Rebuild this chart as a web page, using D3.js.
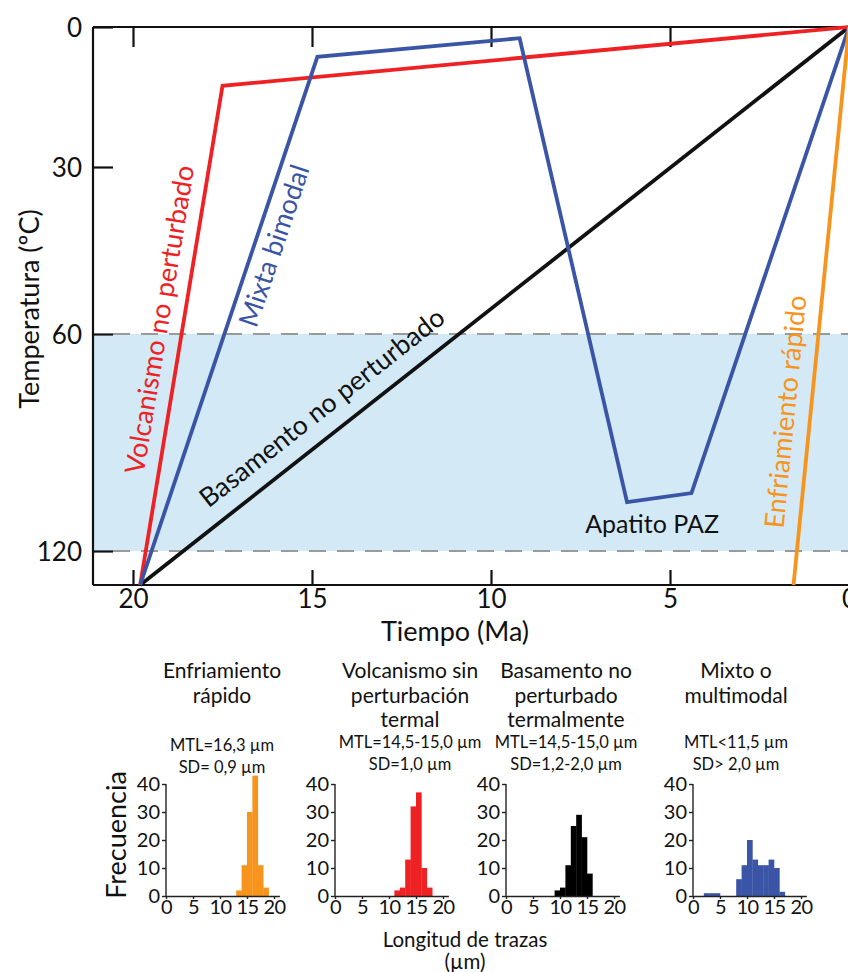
<!DOCTYPE html>
<html><head><meta charset="utf-8">
<script src="https://cdn.jsdelivr.net/npm/d3@7"></script>
<style>
html,body{margin:0;padding:0;background:#fff;}
svg{display:block;font-family:Lato,"Open Sans",sans-serif;}
</style></head>
<body>
<svg id="c" width="848" height="972"></svg>
<script>
// ---------- data: main thermal-history chart ----------
const timeTicks = [20, 15, 10, 5, 0];
const tempTicks = [0, 30, 60, 120];
const pazRange = [60, 120];           // Apatito PAZ band (ºC)

const volcTime = [19.8, 17.5, 0];
const volcTemp = [130, 12.6, 0];
const mixTime  = [19.8, 14.85, 9.2, 6.2, 4.4, 0];
const mixTemp  = [130, 6.4, 2.4, 106.5, 104, 0];
const basTime  = [19.8, 0];
const basTemp  = [130, 0];
const enfTime  = [1.55, 0];
const enfTemp  = [130, 0];

// ---------- data: track-length histograms ----------
const histTitles = [["Enfriamiento", "rápido"], ["Volcanismo sin", "perturbación", "termal"], ["Basamento no", "perturbado", "termalmente"], ["Mixto o", "multimodal"]];
const histStats = [["MTL=16,3 µm", "SD= 0,9 µm"], ["MTL=14,5-15,0 µm", "SD=1,0 µm"], ["MTL=14,5-15,0 µm", "SD=1,2-2,0 µm"], ["MTL<11,5 µm", "SD> 2,0 µm"]];
const enfBins = [13, 14, 15, 16, 17, 18];
const enfCounts = [2, 11, 30, 43, 11, 3];
const volBins = [11, 12, 13, 14, 15, 16, 17];
const volCounts = [2, 3, 13, 32, 37, 10, 3];
const basBins = [9, 10, 11, 12, 13, 14, 15];
const basCounts = [2, 3, 11, 25, 29, 21, 8];
const mixBins = [2, 3, 4, 8, 9, 10, 11, 12, 13, 14, 15, 16];
const mixCounts = [1, 1, 1, 6, 11, 20, 13, 11, 11, 13, 10, 1.5];
const lenTicks = [0, 5, 10, 15, 20];
const freqTicks = [0, 10, 20, 30, 40];

// ---------- styles ----------
const RED = "#ee2124", BLUE = "#3a55a5", BLACK = "#111", ORANGE = "#f7941d", BAND = "#d3e9f6";

const svg = d3.select("#c");

// ---------- main chart ----------
const x = d3.scaleLinear().domain([20, 0]).range([133, 849]);
const y = d3.scaleLinear().domain([0, 30, 60, 120, 130]).range([27, 167, 334, 551, 585]);
const L = 93, R = 848, T = 27, B = 585;

const defs = svg.append("defs");
defs.append("clipPath").attr("id", "clipMain").append("rect")
  .attr("x", L).attr("y", 0).attr("width", R - L).attr("height", B + 10);

const gM = svg.append("g");
// PAZ band
gM.append("rect").attr("x", L).attr("width", R - L)
  .attr("y", y(pazRange[0])).attr("height", y(pazRange[1]) - y(pazRange[0]))
  .attr("fill", BAND);
gM.selectAll("line.dash").data(pazRange).join("line")
  .attr("x1", L + 20).attr("x2", R).attr("y1", d => y(d)).attr("y2", d => y(d))
  .attr("stroke", "#9a9a9a").attr("stroke-width", 2).attr("stroke-dasharray", "17,11");

// axes
const axL = d3.axisLeft(y).tickValues(tempTicks).tickSize(-20).tickPadding(11).tickFormat(d3.format("d"));
const gL = gM.append("g").attr("transform", `translate(${L},0)`).call(axL);
gL.select(".domain").attr("d", `M0,${T}V${B}`);
const axB = d3.axisBottom(x).tickValues(timeTicks).tickSize(-15).tickPadding(5);
const gB = gM.append("g").attr("transform", `translate(0,${B})`).call(axB);
gB.select(".domain").attr("d", `M${L},0H${R + 5}`);
const axT = d3.axisTop(x).tickValues(timeTicks).tickSize(-20).tickFormat("");
const gT = gM.append("g").attr("transform", `translate(0,${T})`).call(axT);
gT.select(".domain").attr("d", `M${L},0H${R + 5}`);
[gL, gB, gT].forEach(g => {
  g.selectAll(".domain,line").attr("stroke", "#111").attr("stroke-width", 2.2);
  g.selectAll("text").attr("font-size", 26).attr("fill", "#111").attr("font-family", "Lato,sans-serif");
});
gL.selectAll("text").attr("dy", "0.35em");
gB.selectAll(".tick").filter(d => d === 0).select("line").remove();
gT.selectAll(".tick").filter(d => d === 0).select("line").remove();

// lines
const line = d3.line().x(d => x(d[0])).y(d => y(d[1]));
const series = [
  {t: basTime, v: basTemp, c: BLACK},
  {t: volcTime, v: volcTemp, c: RED},
  {t: mixTime, v: mixTemp, c: BLUE},
  {t: enfTime, v: enfTemp, c: ORANGE}
];
gM.append("g").attr("clip-path", "url(#clipMain)")
  .selectAll("path").data(series).join("path")
  .attr("d", s => line(d3.zip(s.t, s.v)))
  .attr("fill", "none").attr("stroke", s => s.c).attr("stroke-width", 3.8)
  .attr("stroke-linejoin", "miter");

// rotated labels along lines
function lineLabel(text, t0, v0, t1, v1, frac, off, color, size) {
  const x0 = x(t0), y0 = y(v0), x1 = x(t1), y1 = y(v1);
  const ang = Math.atan2(y1 - y0, x1 - x0) * 180 / Math.PI;
  const px = x0 + (x1 - x0) * frac, py = y0 + (y1 - y0) * frac;
  gM.append("text").attr("transform", `translate(${px},${py}) rotate(${ang})`)
    .attr("y", -off).attr("dy", "0.35em").attr("text-anchor", "middle")
    .attr("font-size", size).attr("fill", color).text(text);
}
lineLabel("Volcanismo no perturbado", volcTime[0], volcTemp[0], volcTime[1], volcTemp[1], 0.524, 24, RED, 27);
lineLabel("Mixta bimodal", mixTime[0], mixTemp[0], mixTime[1], mixTemp[1], 0.654, -19, BLUE, 27);
lineLabel("Basamento no perturbado", basTime[0], basTemp[0], basTime[1], basTemp[1], 0.28, 27, BLACK, 26.5);
lineLabel("Enfriamiento rápido", enfTime[0], enfTemp[0], enfTime[1], enfTemp[1], 0.306, 25, ORANGE, 27);

gM.append("text").attr("x", x(5.5)).attr("y", y(112.5)).attr("dy", "0.35em")
  .attr("text-anchor", "middle").attr("font-size", 25).attr("fill", "#111").text("Apatito PAZ");

// axis titles
gM.append("text").attr("transform", `translate(30,${(T + B) / 2 + 3}) rotate(-90)`)
  .attr("text-anchor", "middle").attr("dy", "0.35em").attr("font-size", 27).attr("fill", "#111")
  .text("Temperatura (ºC)");
gM.append("text").attr("x", 455).attr("y", 632).attr("dy", "0.35em")
  .attr("text-anchor", "middle").attr("font-size", 27).attr("fill", "#111").text("Tiempo (Ma)");

// ---------- histograms ----------
const panelX = [166, 335, 506, 693];
const titleX = [222, 410, 566, 736];
const hist = [
  {b: enfBins, c: enfCounts, col: ORANGE},
  {b: volBins, c: volCounts, col: RED},
  {b: basBins, c: basCounts, col: "#000"},
  {b: mixBins, c: mixCounts, col: BLUE}
];
const hx = d3.scaleLinear().domain([0, 21]).range([0, 113.4]);
const hy = d3.scaleLinear().domain([0, 40]).range([896, 784]);

hist.forEach((h, i) => {
  const g = svg.append("g").attr("transform", `translate(${panelX[i]},0)`);
  g.selectAll("rect").data(d3.zip(h.b, h.c)).join("rect")
    .attr("x", d => hx(d[0])).attr("width", d => hx(d[0] + 1) - hx(d[0]) + 0.3)
    .attr("y", d => hy(d[1])).attr("height", d => hy(0) - hy(d[1]))
    .attr("fill", h.col);
  const ay = g.append("g").call(d3.axisLeft(hy).tickValues(freqTicks).tickSize(4).tickPadding(2));
  const ax = g.append("g").attr("transform", `translate(0,${hy(0)})`)
    .call(d3.axisBottom(hx).tickValues(lenTicks).tickSize(3).tickPadding(1).tickSizeOuter(0));
  [ax, ay].forEach(a => {
    a.selectAll(".domain,line").attr("stroke", "#222").attr("stroke-width", 1.4);
    a.selectAll("text").attr("font-size", 20).attr("fill", "#111").attr("font-family", "Lato,sans-serif");
  });
  ay.select(".domain").attr("d", `M0,${hy(40)}V${hy(0)}`);
  ax.selectAll("text").attr("letter-spacing", "-0.5px");
  // titles
  svg.append("text").attr("text-anchor", "middle").attr("font-size", 21).attr("fill", "#111")
    .selectAll("tspan").data(histTitles[i]).join("tspan")
    .attr("x", titleX[i]).attr("y", (d, j) => 678 + j * 24.5).text(d => d);
  svg.append("text").attr("text-anchor", "middle").attr("font-size", 16.5).attr("fill", "#111")
    .selectAll("tspan").data(histStats[i]).join("tspan")
    .attr("x", titleX[i]).attr("y", (d, j) => (i === 0 ? 751 : 748) + j * 22).text(d => d);
});

svg.append("text").attr("transform", "translate(117,835) rotate(-90)").attr("text-anchor", "middle")
  .attr("dy", "0.35em").attr("font-size", 27).attr("fill", "#111").text("Frecuencia");
svg.append("text").attr("x", 465).attr("y", 947).attr("text-anchor", "middle")
  .attr("font-size", 20.5).attr("fill", "#111").text("Longitud de trazas");
svg.append("text").attr("x", 465).attr("y", 969).attr("text-anchor", "middle")
  .attr("font-size", 20.5).attr("fill", "#111").text("(µm)");
</script>
</body></html>
